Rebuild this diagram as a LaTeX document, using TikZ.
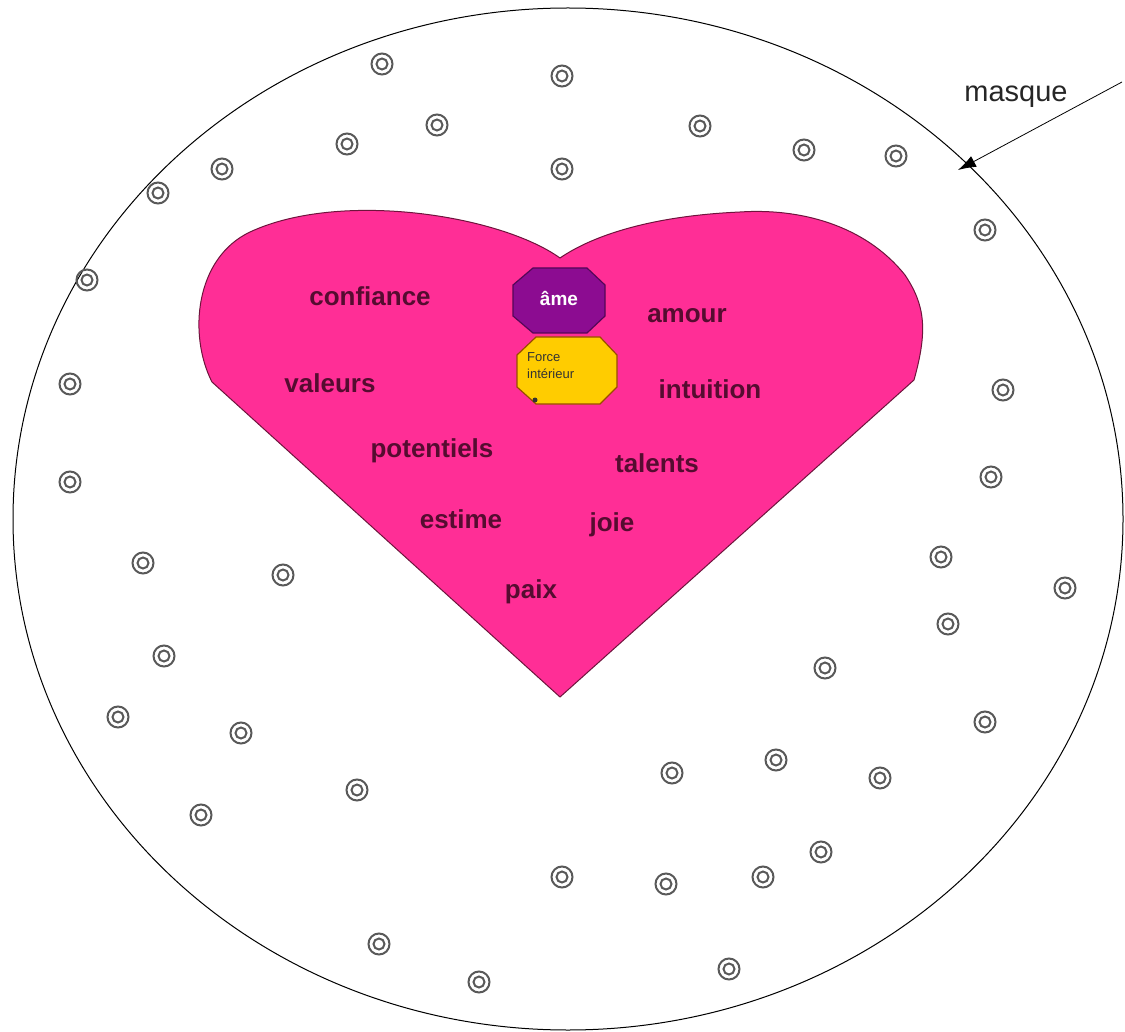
\documentclass[tikz,border=0pt]{standalone}
\usepackage{fontspec}
\setmainfont{Liberation Sans}
\usepackage{xcolor}
\usetikzlibrary{arrows.meta,calc}
\definecolor{heartpink}{RGB}{255,46,150}
\definecolor{heartline}{RGB}{110,20,60}
\definecolor{wordcol}{RGB}{85,12,48}
\definecolor{soulpurple}{RGB}{140,12,145}
\definecolor{forceyellow}{RGB}{255,204,0}
\tikzset{
  word/.style={font=\bfseries\fontsize{26}{30}\selectfont, text=wordcol, inner sep=0pt},
  ring/.style={draw=black!65, line width=2pt},
  arr/.style={-{Latex[length=18pt,width=12pt]}, line width=0.8pt},
}

\begin{document}
\begin{tikzpicture}[x=1pt, y=-1pt]
  \useasboundingbox (0,0) rectangle (1125,1032);
  % mask
  \draw[line width=1pt] (568,519) ellipse[x radius=555, y radius=511];
  % heart
  \draw[fill=heartpink, draw=heartline, line width=1pt]
    (560,258) .. controls (500,215) and (340,190) .. (250,232)
    .. controls (195,258) and (188,335) .. (212,382)
    -- (560,697) -- (914,380)
    .. controls (928,330) and (925,305) .. (905,275)
    .. controls (865,225) and (800,208) .. (740,212)
    .. controls (650,216) and (592,236) .. (560,258);
  % soul and inner strength
  \draw[fill=soulpurple, draw=soulpurple!60!black, line width=1.2pt]
    (533,268) -- (587,268) -- (605,285) -- (605,316) -- (587,333)
    -- (533,333) -- (513,316) -- (513,285) -- cycle;
  \node[font=\bfseries\fontsize{19}{21}\selectfont, text=white] (ame) at (559,299) {âme};
  \draw[fill=forceyellow, draw=orange!60!black, line width=1.2pt]
    (536,337) -- (600,337) -- (617,355) -- (617,387) -- (600,404)
    -- (536,404) -- (517,387) -- (517,355) -- cycle;
  \node[font=\fontsize{13}{17}\selectfont, text=black!80, align=left, anchor=north west,
    inner sep=0pt] (force) at (527,352) {Force\\intérieur};
  \fill[black!80] (535,400) circle[radius=2.5];
  % words
  \node[word] (confiance) at (370,296) {confiance};
  \node[word] (amour) at (687,316) {amour};
  \node[word] (valeurs) at (330,383) {valeurs};
  \node[word] (intuition) at (710,389) {intuition};
  \node[word] (potentiels) at (432,451) {potentiels};
  \node[word] (talents) at (657,463) {talents};
  \node[word] (estime) at (461,519) {estime};
  \node[word] (joie) at (612,525) {joie};
  \node[word] (paix) at (531,592) {paix};
  % label
  \node[font=\fontsize{29}{33}\selectfont, text=black!85] (masque) at (1016,97) {masque};
  \coordinate (tail) at (1122,82);
  \coordinate (tip) at (958,170);
  \draw[arr] (tail) -- (tip);
  % rings
  \foreach \x/\y in {382/64, 562/76, 437/125, 700/126, 347/144, 804/150, 896/156,
    222/169, 562/169, 158/193, 985/230, 87/280, 70/384, 1003/390, 70/482, 991/477,
    143/563, 283/575, 941/557, 1065/588, 948/624, 164/656, 825/668, 118/717,
    241/733, 985/722, 672/773, 776/760, 880/778, 357/790, 201/815, 821/852,
    562/877, 666/884, 763/877, 379/944, 479/982, 729/969} {
    \draw[ring] (\x,\y) circle[radius=10.5];
    \draw[ring] (\x,\y) circle[radius=5.5];
  }
\end{tikzpicture}
\end{document}
